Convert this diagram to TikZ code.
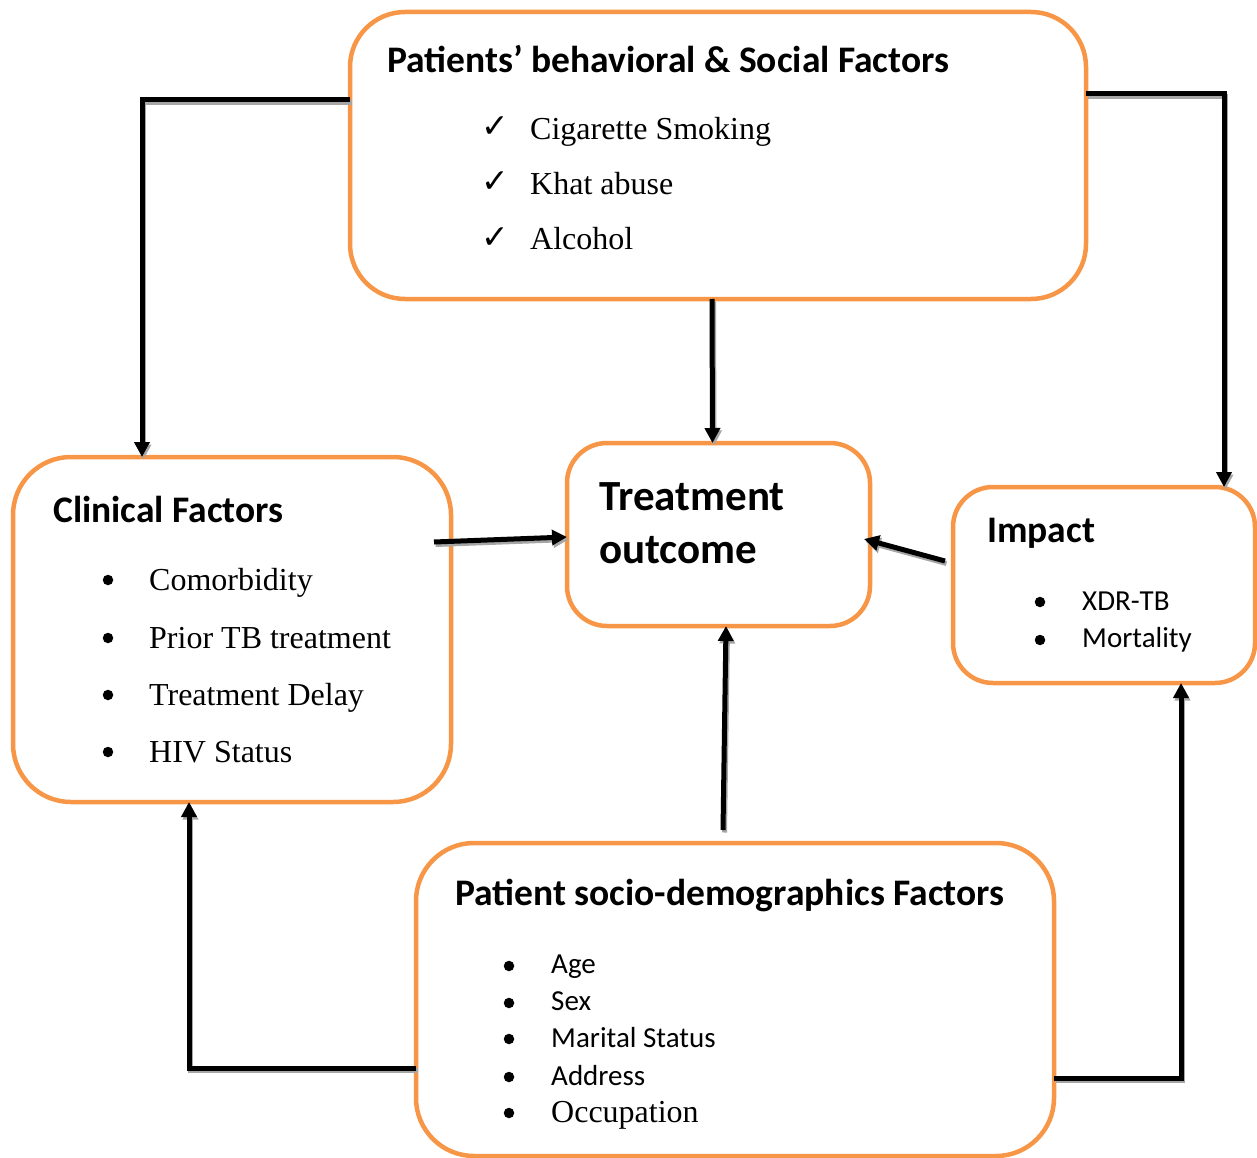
\documentclass[tikz,border=0pt]{standalone}
\usepackage{fontspec}
\setmainfont{Liberation Serif}
\newfontfamily\calibri{Carlito}
\newfontfamily\symfont{DejaVu Sans}
\usetikzlibrary{arrows.meta}
\definecolor{boxorange}{HTML}{F79646}
\begin{document}
\begin{tikzpicture}[x=1pt,y=-1pt,
  factorbox/.style={draw=boxorange, line width=4.5pt, fill=white, inner sep=0pt, outer sep=0pt},
  head/.style={font=\calibri\bfseries\fontsize{37.5}{44}\selectfont, inner sep=0pt, anchor=base west},
  bighead/.style={font=\calibri\bfseries\fontsize{43}{50}\selectfont, inner sep=0pt, anchor=base west},
  seritem/.style={font=\fontsize{32}{38}\selectfont, inner sep=0pt, anchor=base west},
  sansitem/.style={font=\calibri\fontsize{29}{35}\selectfont, inner sep=0pt, anchor=base west},
  tick/.style={font=\symfont\fontsize{33}{38}\selectfont, inner sep=0pt, anchor=base west},
  dot/.style={circle, fill=black, inner sep=0pt, minimum size=10.5pt},
  conn/.style={line width=5pt, -{Triangle[length=15pt,width=15pt]},
    preaction={draw=black!35, line width=5pt, transform canvas={xshift=1.5pt,yshift=-2.5pt}}}
]
\useasboundingbox (0,0) rectangle (1257,1158);

% factor boxes
\node[factorbox, rounded corners=55pt, minimum width=736pt, minimum height=287pt] (top) at (718,155.5) {};
\node[factorbox, rounded corners=40pt, minimum width=303pt, minimum height=183pt] (out) at (718.5,534.5) {};
\node[factorbox, rounded corners=58pt, minimum width=438pt, minimum height=345pt] (clin) at (232,629.5) {};
\node[factorbox, rounded corners=40pt, minimum width=302pt, minimum height=196pt] (imp) at (1104,585) {};
\node[factorbox, rounded corners=58pt, minimum width=638pt, minimum height=313pt] (soc) at (735,999.5) {};

% behavioural and social factors
\node[head] (topT) at (387,73) {Patients’ behavioral \& Social Factors};
\node[tick] (tk1) at (481,138) {✓};
\node[tick] (tk2) at (481,193) {✓};
\node[tick] (tk3) at (481,248) {✓};
\node[seritem] (t1) at (530,140) {Cigarette Smoking};
\node[seritem] (t2) at (530,195) {Khat abuse};
\node[seritem] (t3) at (530,250) {Alcohol};

% treatment outcome
\node[bighead] (outT1) at (599,510) {Treatment};
\node[bighead] (outT2) at (599,563) {outcome};

% clinical factors
\node[head] (clinT) at (53,522) {Clinical Factors};
\node[dot] (cd1) at (108,580) {};
\node[dot] (cd2) at (108,638) {};
\node[dot] (cd3) at (108,695) {};
\node[dot] (cd4) at (108,752) {};
\node[seritem] (c1) at (149,590) {Comorbidity};
\node[seritem] (c2) at (149,648) {Prior TB treatment};
\node[seritem] (c3) at (149,705) {Treatment Delay};
\node[seritem] (c4) at (149,762) {HIV Status};

% impact
\node[head] (impT) at (987,542) {Impact};
\node[dot] (id1) at (1040,602) {};
\node[dot] (id2) at (1040,640) {};
\node[sansitem] (i1) at (1082,610) {XDR-TB};
\node[sansitem] (i2) at (1082,647) {Mortality};

% socio-demographic factors
\node[head] (socT) at (455,905) {Patient socio-demographics Factors};
\node[dot] (sd1) at (509,966) {};
\node[dot] (sd2) at (509,1003) {};
\node[dot] (sd3) at (509,1039) {};
\node[dot] (sd4) at (509,1077) {};
\node[dot] (sd5) at (509,1113) {};
\node[sansitem] (s1) at (551,973) {Age};
\node[sansitem] (s2) at (551,1010) {Sex};
\node[sansitem] (s3) at (551,1047) {Marital Status};
\node[sansitem] (s4) at (551,1085) {Address};
\node[seritem] (s5) at (551,1122) {Occupation};

% connectors
\draw[conn] ([yshift=55.5pt]top.west) -| ([xshift=-90pt]clin.north);
\draw[conn] ([yshift=61.5pt]top.east) -| ([xshift=120pt]imp.north);
\draw[conn] ([xshift=-6pt]top.south) -- ([xshift=-6pt]out.north);
\draw[conn] ([xshift=-17pt,yshift=87.5pt]clin.east) -- ([yshift=-2.5pt]out.west);
\draw[conn] ([xshift=-8pt,yshift=24pt]imp.west) -- ([xshift=-6pt,yshift=-4.5pt]out.east);
\draw[conn] ([xshift=-12pt,yshift=13pt]soc.north) -- ([xshift=7.5pt]out.south);
\draw[conn] ([yshift=-68.5pt]soc.west) -| ([xshift=-43pt]clin.south);
\draw[conn] ([yshift=-78.5pt]soc.east) -| ([xshift=77pt]imp.south);
\end{tikzpicture}
\end{document}
